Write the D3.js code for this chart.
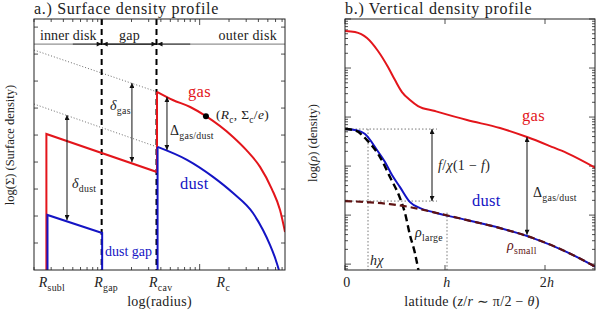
<!DOCTYPE html>
<html><head><meta charset="utf-8">
<script src="https://cdn.jsdelivr.net/npm/d3@7"></script>
<style>
body{margin:0;background:#fff}
text{font-family:"Liberation Serif","DejaVu Serif",serif;fill:#222;letter-spacing:0.3px}
</style>
</head><body>
<svg id="c" width="600" height="312" xmlns="http://www.w3.org/2000/svg"></svg>
<script>
// ---------------- Panel a: surface density (x: radius in AU, log; y: log Sigma units) ----------------
const radiusLabelNames = ["subl", "gap", "cav", "c"];
const radiusLabelPos   = [0.27, 1.0, 3.65, 18];
const rSubl = 0.268, rSublDust = 0.275, rGap = 1.0, rCav = 3.65, rC = 11.6;

const gasInnerR = [rSubl, rSubl, rCav, rCav];
const gasInnerS = [0, 5.04, 3.63, 6.6];
const gasOuterR = [3.65, 5.3, 8.0, 11.6, 22, 30, 41.6, 55, 66.7, 75];
const gasOuterS = [6.6, 6.3, 6.04, 5.7, 4.93, 4.45, 3.82, 3.0, 2.22, 1.41];

const dustInnerR = [rSublDust, rSublDust, rGap, rGap];
const dustInnerS = [0, 2.04, 1.37, 0];
const dustOuterR = [3.7, 3.7, 7.41, 13.7, 22.0, 35.2, 44.6, 52.6, 60.0, 65.0];
const dustOuterS = [0, 4.56, 4.08, 3.45, 2.85, 2.11, 1.48, 0.93, 0.4, 0];

const gasExtrapR  = [0.2, 3.65], gasExtrapS  = [8.15, 6.6];
const dustExtrapR = [0.2, 3.65], dustExtrapS = [6.15, 4.56];

const markerRc = [rC, 5.7];
// arrows: [R, Sfrom, Sto]
const arrowDeltaGas  = [2.02, 6.93, 4.0];
const arrowDeltaDust = [0.436, 5.74, 1.85];
const arrowGasDustA  = [4.62, 6.41, 4.45];
const headerS = 8.37;
const yTicksA = [1, 2, 3, 4, 5, 6, 7, 8, 9];

// ---------------- Panel b: vertical density (x: z/r in units of h; y: log10 rho) ----------------
const latTicks = [0, 1, 2];
const latTickLabels = ["0", "h", "2h"];
const gasZ   = [0, 0.1, 0.22, 0.33, 0.43, 0.5, 0.57, 0.65, 0.73, 0.9, 1.22, 1.55, 1.82, 2.05, 2.22, 2.51];
const gasRho = [-0.245, -0.265, -0.388, -0.653, -0.98, -1.245, -1.49, -1.653, -1.776, -1.878, -2.061, -2.224, -2.408, -2.592, -2.735, -3.041];
const dustZ   = [0, 0.1, 0.2, 0.32, 0.4, 0.47, 0.55, 0.65, 0.75, 0.88, 1.22, 1.55, 1.88, 2.22, 2.51];
const dustRho = [-2.245, -2.265, -2.347, -2.673, -2.918, -3.184, -3.429, -3.735, -3.857, -3.939, -4.102, -4.265, -4.469, -4.755, -5.061];
const largeZ   = [0, 0.1, 0.22, 0.35, 0.45, 0.55, 0.6, 0.65, 0.7, 0.73, 0.76];
const largeRho = [-2.245, -2.27, -2.47, -2.816, -3.224, -3.653, -3.96, -4.41, -4.78, -5.08, -5.4];
const smallZ   = [0, 0.22, 0.45, 0.65, 0.88, 1.22, 1.55, 1.88, 2.22, 2.51];
const smallRho = [-3.714, -3.735, -3.776, -3.837, -3.939, -4.102, -4.265, -4.469, -4.755, -5.061];
const rhoTop = -2.245, rhoSmall0 = -3.714;
const zChi = 0.23, zH = 1.02, zGuideEnd = 0.92;
const arrowF = [0.87, -2.245, -3.714];
const arrowGasDustB = [1.82, -2.408, -4.40];

// ---------------- setup ----------------
const RED = "#e3151b", BLUE = "#1414c4", BROWN = "#5e1212";
const svg = d3.select("#c");
const A = {l: 34, r: 285, t: 19, b: 270};
const B = {l: 345, r: 595, t: 19, b: 270};
const xA = d3.scaleLog().domain([0.2, 75]).range([A.l, A.r]);
const yA = d3.scaleLinear().domain([0, 9.3]).range([A.b, A.t]);
const xB = d3.scaleLinear().domain([0, 2.5]).range([B.l, B.r]);
const yB = d3.scaleLinear().domain([-5.12, 0]).range([B.b, B.t]);

const defs = svg.append("defs");
function mk(id, color, rev) {
  defs.append("marker").attr("id", id).attr("viewBox", "0 0 10 10")
    .attr("refX", 10).attr("refY", 5).attr("markerWidth", 6).attr("markerHeight", 5)
    .attr("orient", rev ? "auto-start-reverse" : "auto").attr("markerUnits", "userSpaceOnUse")
    .append("path").attr("d", "M0,0 L10,5 L0,10 Z").attr("fill", color);
}
mk("ah", "#111", true);
[["clipA", A], ["clipB", B]].forEach(([id, P]) => {
  defs.append("clipPath").attr("id", id).append("rect")
    .attr("x", P.l).attr("y", P.t).attr("width", P.r - P.l).attr("height", P.b - P.t);
});

function mtext(x, y, parts, o) {
  const t = svg.append("text").attr("x", x).attr("y", y).attr("font-size", o.size)
    .attr("text-anchor", o.anchor || "start");
  if (o.fill) t.style("fill", o.fill);
  if (o.ls != null) t.style("letter-spacing", o.ls + "px");
  if (o.rotate) t.attr("transform", `rotate(${o.rotate},${x},${y})`);
  let shift = 0;
  parts.forEach(p => {
    const s = p[0], st = p[1] || "";
    const ts = t.append("tspan").text(s);
    if (st.includes("i")) ts.attr("font-style", "italic");
    const target = st.includes("sub") ? o.size * 0.28 : 0;
    if (target !== shift) { ts.attr("dy", target - shift); shift = target; }
    if (st.includes("sub")) ts.attr("font-size", o.size * 0.7);
  });
  return t;
}
const zip = (a, b) => a.map((v, i) => [v, b[i]]);

// ---------------- Panel a ----------------
const gA = svg.append("g");
const lineA = d3.line().x(d => xA(d[0])).y(d => yA(d[1]));
const curveA = d3.line().x(d => xA(d[0])).y(d => yA(d[1])).curve(d3.curveMonotoneX);

const xTickA = [];
[0.1, 1, 10].forEach(d => { for (let k = 1; k <= 9; k++) { const v = k * d; if (v >= 0.2 && v <= 75) xTickA.push([v, k === 1]); } });
xTickA.forEach(([v, maj]) => {
  const L = maj ? 6 : 3;
  gA.append("line").attr("x1", xA(v)).attr("x2", xA(v)).attr("y1", A.b).attr("y2", A.b - L).attr("stroke", "#222").attr("stroke-width", 0.8);
  gA.append("line").attr("x1", xA(v)).attr("x2", xA(v)).attr("y1", A.t).attr("y2", A.t + L).attr("stroke", "#222").attr("stroke-width", 0.8);
});
yTicksA.forEach(v => {
  gA.append("line").attr("x1", A.l).attr("x2", A.l + 4).attr("y1", yA(v)).attr("y2", yA(v)).attr("stroke", "#222").attr("stroke-width", 0.8);
  gA.append("line").attr("x1", A.r).attr("x2", A.r - 4).attr("y1", yA(v)).attr("y2", yA(v)).attr("stroke", "#222").attr("stroke-width", 0.8);
});

gA.append("path").datum(zip(gasExtrapR, gasExtrapS)).attr("d", lineA).attr("fill", "none").attr("stroke", "#444").attr("stroke-width", 0.8).attr("stroke-dasharray", "1,2");
gA.append("path").datum(zip(dustExtrapR, dustExtrapS)).attr("d", lineA).attr("fill", "none").attr("stroke", "#444").attr("stroke-width", 0.8).attr("stroke-dasharray", "1,2");

const hy = yA(headerS);
gA.append("line").attr("x1", A.l).attr("x2", A.r).attr("y1", hy).attr("y2", hy).attr("stroke", "#777").attr("stroke-width", 1);
gA.append("line").attr("x1", xA(0.5)).attr("x2", xA(rGap) - 0.5).attr("y1", hy).attr("y2", hy).attr("stroke", "#333").attr("stroke-width", 1).attr("marker-end", "url(#ah)");
gA.append("line").attr("x1", xA(rGap) + 0.5).attr("x2", xA(rCav) - 0.5).attr("y1", hy).attr("y2", hy).attr("stroke", "#111").attr("stroke-width", 1.2).attr("marker-start", "url(#ah)").attr("marker-end", "url(#ah)");
gA.append("line").attr("x1", xA(8)).attr("x2", xA(rCav) + 0.5).attr("y1", hy).attr("y2", hy).attr("stroke", "#333").attr("stroke-width", 1).attr("marker-end", "url(#ah)");

[rGap, rCav].forEach(r => {
  gA.append("line").attr("x1", xA(r) - 0.5).attr("x2", xA(r) - 0.5).attr("y1", A.t).attr("y2", A.b)
    .attr("stroke", "#000").attr("stroke-width", 2).attr("stroke-dasharray", "6,4");
});

const cA = gA.append("g").attr("clip-path", "url(#clipA)");
cA.append("path").datum(zip(gasInnerR, gasInnerS)).attr("d", lineA).attr("fill", "none").attr("stroke", RED).attr("stroke-width", 2).attr("stroke-linejoin", "miter");
cA.append("path").datum(zip(gasOuterR, gasOuterS)).attr("d", curveA).attr("fill", "none").attr("stroke", RED).attr("stroke-width", 2);
cA.append("path").datum(zip(dustInnerR, dustInnerS)).attr("d", lineA).attr("fill", "none").attr("stroke", BLUE).attr("stroke-width", 2);
cA.append("path").datum(zip(dustOuterR.slice(0, 2), dustOuterS.slice(0, 2))).attr("d", lineA).attr("fill", "none").attr("stroke", BLUE).attr("stroke-width", 2);
cA.append("path").datum(zip(dustOuterR.slice(1), dustOuterS.slice(1))).attr("d", curveA).attr("fill", "none").attr("stroke", BLUE).attr("stroke-width", 2);

[arrowDeltaGas, arrowDeltaDust, arrowGasDustA].forEach(([r, s0, s1]) => {
  gA.append("line").attr("x1", xA(r)).attr("x2", xA(r)).attr("y1", yA(s0)).attr("y2", yA(s1))
    .attr("stroke", "#111").attr("stroke-width", 1).attr("marker-start", "url(#ah)").attr("marker-end", "url(#ah)");
});
gA.append("circle").attr("cx", xA(markerRc[0])).attr("cy", yA(markerRc[1])).attr("r", 3).attr("fill", "#000");

gA.append("rect").attr("x", A.l).attr("y", A.t).attr("width", A.r - A.l).attr("height", A.b - A.t).attr("fill", "none").attr("stroke", "#222").attr("stroke-width", 1);

mtext(A.l, 14, [["a.) Surface density profile"]], {size: 16, ls: 0.7});
mtext(40, 40, [["inner disk"]], {size: 14, ls: 0.1});
mtext((xA(rGap) + xA(rCav)) / 2, 40, [["gap"]], {size: 14, anchor: "middle"});
mtext(A.r - 8, 40, [["outer disk"]], {size: 14, anchor: "end"});
mtext(188, 97, [["gas"]], {size: 16.5, fill: RED});
mtext(180, 189, [["dust"]], {size: 16.5, fill: BLUE});
mtext(105, 256, [["dust gap"]], {size: 14, fill: BLUE, ls: 0});
mtext(216, 119, [["("], ["R", "i"], ["c", "sub"], [", Σ"], ["c", "sub"], ["/"], ["e", "i"], [")"]], {size: 13.5});
mtext(110, 110, [["δ", "i"], ["gas", "sub"]], {size: 14});
mtext(170, 135, [["Δ"], ["gas/dust", "sub"]], {size: 14});
mtext(72, 188, [["δ", "i"], ["dust", "sub"]], {size: 14});
radiusLabelNames.forEach((n, i) => {
  mtext(xA(radiusLabelPos[i]) - 8, 287, [["R", "i"], [n, "sub"]], {size: 14});
});
mtext((A.l + A.r) / 2, 306, [["log(radius)"]], {size: 14, anchor: "middle"});
mtext(14, 145, [["log(Σ)  (Surface density)"]], {size: 12.5, anchor: "middle", rotate: -90, ls: 0});

// ---------------- Panel b ----------------
const gB = svg.append("g");
const curveB = d3.line().x(d => xB(d[0])).y(d => yB(d[1])).curve(d3.curveMonotoneX);

for (let n = -6; n <= 0; n++) {
  for (let k = 1; k <= 9; k++) {
    const v = n + Math.log10(k);
    if (v < -5.12 || v > 0) continue;
    const L = k === 1 ? 6 : 3;
    gB.append("line").attr("x1", B.l).attr("x2", B.l + L).attr("y1", yB(v)).attr("y2", yB(v)).attr("stroke", "#222").attr("stroke-width", 0.8);
    gB.append("line").attr("x1", B.r).attr("x2", B.r - L).attr("y1", yB(v)).attr("y2", yB(v)).attr("stroke", "#222").attr("stroke-width", 0.8);
  }
}
latTicks.forEach(v => {
  gB.append("line").attr("x1", xB(v)).attr("x2", xB(v)).attr("y1", B.t).attr("y2", B.t + 5).attr("stroke", "#222").attr("stroke-width", 0.8);
  gB.append("line").attr("x1", xB(v)).attr("x2", xB(v)).attr("y1", B.b).attr("y2", B.b - 5).attr("stroke", "#222").attr("stroke-width", 0.8);
});

function dline(x1, y1, x2, y2) {
  gB.append("line").attr("x1", x1).attr("x2", x2).attr("y1", y1).attr("y2", y2)
    .attr("stroke", "#555").attr("stroke-width", 0.8).attr("stroke-dasharray", "1.5,2");
}
dline(xB(0), yB(rhoTop), xB(zGuideEnd), yB(rhoTop));
dline(xB(0), yB(rhoSmall0), xB(zGuideEnd), yB(rhoSmall0));
dline(xB(zChi), yB(rhoTop), xB(zChi), B.b);
dline(xB(zH), yB(-3.95), xB(zH), B.b);

const cB = gB.append("g").attr("clip-path", "url(#clipB)");
cB.append("path").datum(zip(gasZ, gasRho)).attr("d", curveB).attr("fill", "none").attr("stroke", RED).attr("stroke-width", 2);
cB.append("path").datum(zip(dustZ, dustRho)).attr("d", curveB).attr("fill", "none").attr("stroke", BLUE).attr("stroke-width", 2);
cB.append("path").datum(zip(largeZ, largeRho)).attr("d", curveB).attr("fill", "none").attr("stroke", "#000").attr("stroke-width", 2.4).attr("stroke-dasharray", "7,4");
cB.append("path").datum(zip(smallZ, smallRho)).attr("d", curveB).attr("fill", "none").attr("stroke", BROWN).attr("stroke-width", 2.2).attr("stroke-dasharray", "7,4");

[arrowF, arrowGasDustB].forEach(([z, r0, r1]) => {
  gB.append("line").attr("x1", xB(z)).attr("x2", xB(z)).attr("y1", yB(r0)).attr("y2", yB(r1))
    .attr("stroke", "#111").attr("stroke-width", 1).attr("marker-start", "url(#ah)").attr("marker-end", "url(#ah)");
});

gB.append("rect").attr("x", B.l).attr("y", B.t).attr("width", B.r - B.l).attr("height", B.b - B.t).attr("fill", "none").attr("stroke", "#222").attr("stroke-width", 1);

mtext(B.l, 14, [["b.) Vertical density profile"]], {size: 16, ls: 0.7});
mtext(522, 121, [["gas"]], {size: 16.5, fill: RED});
mtext(472, 206, [["dust"]], {size: 16.5, fill: BLUE});
mtext(438, 170, [["f", "i"], ["/"], ["χ", "i"], ["(1 − "], ["f", "i"], [")"]], {size: 14});
mtext(533, 197, [["Δ"], ["gas/dust", "sub"]], {size: 14});
mtext(415, 237, [["ρ", "i"], ["large", "sub"]], {size: 14});
mtext(507, 250, [["ρ", "i"], ["small", "sub"]], {size: 14, fill: BROWN});
mtext(370, 265, [["h", "i"], ["χ", "i"]], {size: 14});
latTicks.forEach((v, i) => {
  const lab = latTickLabels[i];
  const parts = lab === "0" ? [["0"]] : lab === "h" ? [["h", "i"]] : [["2"], ["h", "i"]];
  mtext(xB(v) + 2, 287, parts, {size: 14, anchor: "middle"});
});
mtext(472, 306, [["latitude ("], ["z", "i"], ["/"], ["r", "i"], [" ∼ π/2 − "], ["θ", "i"], [")"]], {size: 14, anchor: "middle"});
mtext(317, 143, [["log("], ["ρ", "i"], [")  (density)"]], {size: 12.5, anchor: "middle", rotate: -90, ls: 0});
</script>
</body></html>
